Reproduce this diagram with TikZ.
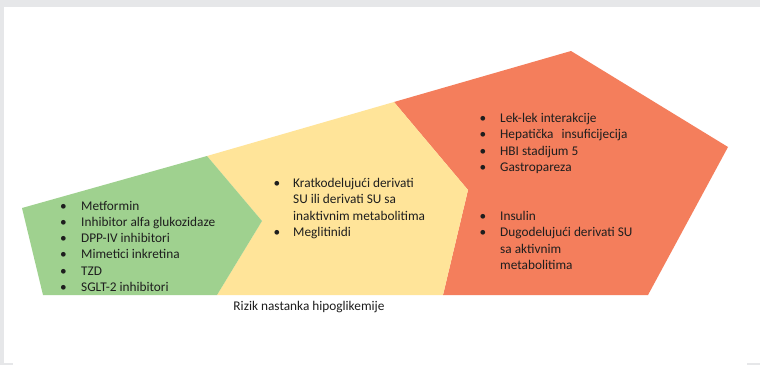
\documentclass[tikz,border=0pt]{standalone}
\usepackage{fontspec}
\setmainfont{Carlito}
\usepackage{array}
\definecolor{frame}{HTML}{E6E7E9}
\definecolor{lowrisk}{HTML}{9FD18F}
\definecolor{midrisk}{HTML}{FFE499}
\definecolor{highrisk}{HTML}{F47E5C}
\definecolor{txt}{HTML}{1E1E1E}
\begin{document}
\begin{tikzpicture}[x={(1pt,0pt)},y={(0pt,-1pt)},
  listnode/.style={anchor=base west, inner sep=0pt, text=txt,
    font=\fontsize{13.3}{16.3}\selectfont},
  capnode/.style={anchor=base, inner sep=0pt, text=txt,
    font=\fontsize{13.3}{16.3}\selectfont}]
\useasboundingbox (0,0) rectangle (760,365);
% frame
\fill[frame] (0,0) rectangle (760,365);
\fill[white] (4,7) rectangle (760,362.5);
\fill[white] (13,362) rectangle (747,365);
% shapes
\fill[highrisk] (394,102) -- (571,51) -- (728,147) -- (648,295) -- (443,295) -- (468,190) -- cycle;
\fill[midrisk] (207,156) -- (394,102) -- (468,190) -- (443,295) -- (217,295) -- (262,221) -- cycle;
\fill[lowrisk] (22,208) -- (207,156) -- (262,221) -- (217,295) -- (43,295) -- cycle;
% texts
\node[listnode] (green) at (60,210) {\begin{tabular}[t]{@{}p{21pt}@{}l@{}}
\textbullet & Metformin\\
\textbullet & Inhibitor alfa glukozidaze\\
\textbullet & DPP-IV inhibitori\\
\textbullet & Mimetici inkretina\\
\textbullet & TZD\\
\textbullet & SGLT-2 inhibitori
\end{tabular}};
\node[listnode] (yellow) at (273.5,187.5) {\begin{tabular}[t]{@{}p{19.5pt}@{}l@{}}
\textbullet & Kratkodelujući derivati\\
 & SU ili derivati SU sa\\
 & inaktivnim metabolitima\\
\textbullet & Meglitinidi
\end{tabular}};
\node[listnode] (orangeA) at (479.5,122.5) {\begin{tabular}[t]{@{}p{20.5pt}@{}l@{}}
\textbullet & Lek-lek interakcije\\
\textbullet & Hepatička\hspace{5pt} insuficijecija\\
\textbullet & HBI stadijum 5\\
\textbullet & Gastropareza
\end{tabular}};
\node[listnode] (orangeB) at (479.5,220.5) {\begin{tabular}[t]{@{}p{20.5pt}@{}l@{}}
\textbullet & Insulin\\
\textbullet & Dugodelujući derivati SU\\
 & sa aktivnim\\
 & metabolitima
\end{tabular}};
\node[capnode] (caption) at (309,310.5) {Rizik nastanka hipoglikemije};
\end{tikzpicture}
\end{document}
